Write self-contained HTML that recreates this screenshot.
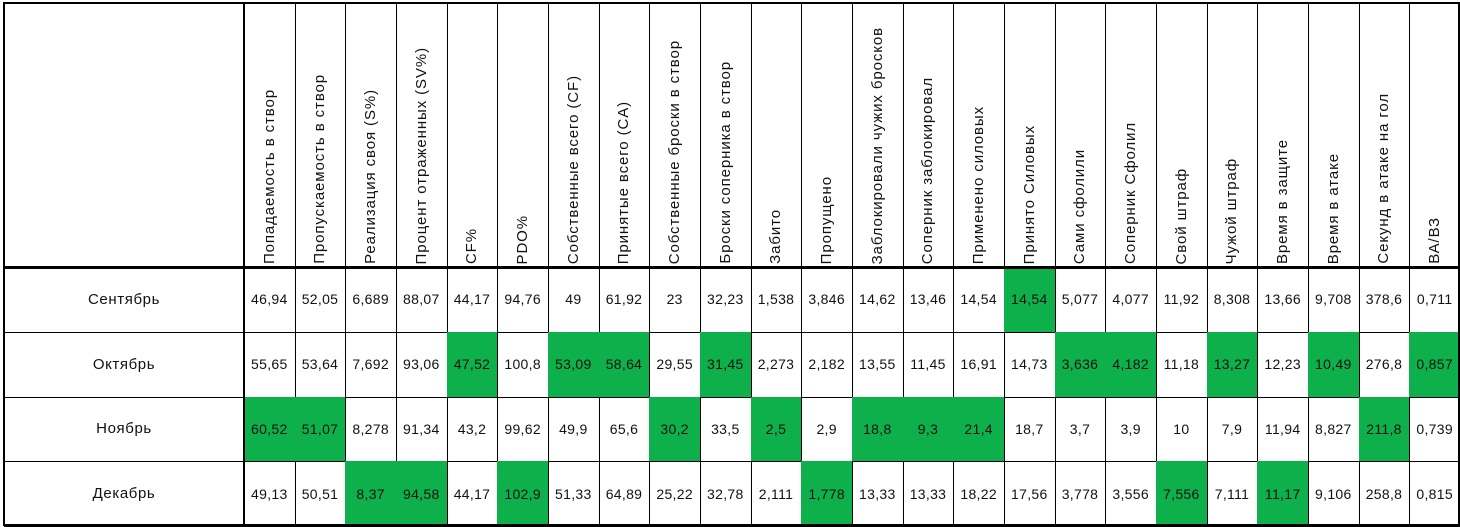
<!DOCTYPE html>
<html><head><meta charset="utf-8">
<style>
body{margin:0;background:#fff;width:1460px;height:527px;overflow:hidden;font-family:"Liberation Sans","DejaVu Sans",sans-serif;}
#t{position:absolute;left:0;top:0;width:1460px;height:527px;}
.c{position:absolute;box-sizing:border-box;border-right:1px solid #000;border-bottom:1px solid #000;display:flex;align-items:center;justify-content:center;font-size:14px;letter-spacing:0.3px;color:#111;white-space:nowrap;}
.m{font-size:15px;letter-spacing:0.6px;}
.h{align-items:flex-end;}
.h span{writing-mode:vertical-rl;transform:rotate(180deg);white-space:nowrap;padding-top:3px;font-size:15px;letter-spacing:0.9px;}
.g{background:#0db04b;}
.frame{position:absolute;border:2px solid #000;box-sizing:border-box;}
</style></head><body>
<div id="t"></div>
<script>
const headers=["Попадаемость в створ","Пропускаемость в створ","Реализация своя (S%)","Процент отраженных (SV%)","CF%","PDO%","Собственные всего (CF)","Принятые всего (CA)","Собственные броски в створ","Броски соперника в створ","Забито","Пропущено","Заблокировали чужих бросков","Соперник заблокировал","Применено силовых","Принято Силовых","Сами сфолили","Соперник Сфолил","Свой штраф","Чужой штраф","Время в защите","Время в атаке","Секунд в атаке на гол","ВА/ВЗ"];
const months=["Сентябрь","Октябрь","Ноябрь","Декабрь"];
const rowSep=["46,94","52,05","6,689","88,07","44,17","94,76","49","61,92","23","32,23","1,538","3,846","14,62","13,46","14,54","14,54","5,077","4,077","11,92","8,308","13,66","9,708","378,6","0,711"];
const rowOct=["55,65","53,64","7,692","93,06","47,52","100,8","53,09","58,64","29,55","31,45","2,273","2,182","13,55","11,45","16,91","14,73","3,636","4,182","11,18","13,27","12,23","10,49","276,8","0,857"];
const rowNov=["60,52","51,07","8,278","91,34","43,2","99,62","49,9","65,6","30,2","33,5","2,5","2,9","18,8","9,3","21,4","18,7","3,7","3,9","10","7,9","11,94","8,827","211,8","0,739"];
const rowDec=["49,13","50,51","8,37","94,58","44,17","102,9","51,33","64,89","25,22","32,78","2,111","1,778","13,33","13,33","18,22","17,56","3,778","3,556","7,556","7,111","11,17","9,106","258,8","0,815"];
const greenSep=[15];
const greenOct=[4,6,7,9,16,17,19,21,23];
const greenNov=[0,1,8,10,12,13,14,22];
const greenDec=[2,3,5,11,18,20];
const rows=[rowSep,rowOct,rowNov,rowDec];
const greens=[greenSep,greenOct,greenNov,greenDec];
const t=document.getElementById('t');
const X0=4,X1=244,XR=1460,Y0=3,YH=267,RH=64.75;
const CW=(XR-X1)/headers.length;
function cell(x,y,w,h,cls){const d=document.createElement('div');d.className='c '+cls;d.style.left=x+'px';d.style.top=y+'px';d.style.width=(w+1)+'px';d.style.height=(h+1)+'px';t.appendChild(d);return d;}
const corner=cell(X0,Y0,X1-X0,YH-Y0,'');


headers.forEach((hd,i)=>{
  const d=cell(X1+i*CW,Y0,CW,YH-Y0,'h');
  
  
  const s=document.createElement('span');s.textContent=hd;d.appendChild(s);
});
months.forEach((m,r)=>{
  const y=YH+r*RH;
  const d=cell(X0,y,X1-X0,RH,'m');
  
  
  d.textContent=m;
  rows[r].forEach((v,i)=>{
    const c=cell(X1+i*CW,y,CW,RH,greens[r].includes(i)?'g':'');
    
    
    c.textContent=v;
  });
});
function frame(x,y,w,h){const f=document.createElement('div');f.className='frame';f.style.left=x+'px';f.style.top=y+'px';f.style.width=w+'px';f.style.height=h+'px';t.appendChild(f);return f;}
const f1=frame(X0-1,Y0-1,XR-X0+1,527-Y0);


const f2=frame(X0-1,YH-1,XR-X0+1,3);
f2.style.border='none';f2.style.background='#000';


const f3=frame(X1-1,Y0,2,527-Y0);
f3.style.border='none';f3.style.background='#000';


</script>
</body></html>
